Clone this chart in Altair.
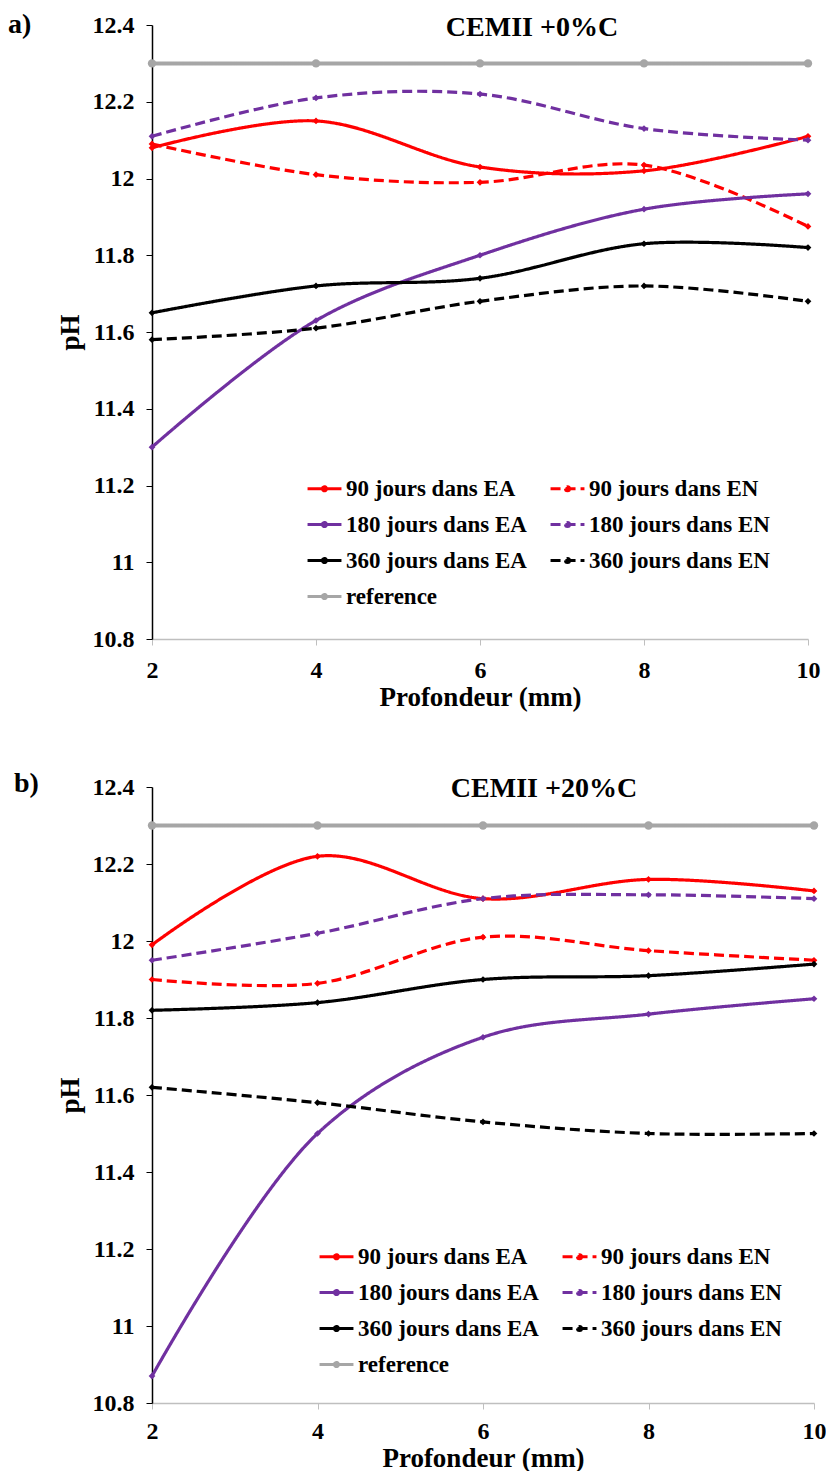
import altair as alt
import pandas as pd

depth = [2, 4, 6, 8, 10]
series_names = [
    "90 jours dans EA", "90 jours dans EN",
    "180 jours dans EA", "180 jours dans EN",
    "360 jours dans EA", "360 jours dans EN",
    "reference",
]
colors = ["#FF0000", "#FF0000", "#7030A0", "#7030A0", "#000000", "#000000", "#A6A6A6"]
dashes = [[1, 0], [10, 5], [1, 0], [10, 5], [1, 0], [10, 5], [1, 0]]
y_ticks = [10.8, 11.0, 11.2, 11.4, 11.6, 11.8, 12.0, 12.2, 12.4]

# Panel a) CEMII +0%C
a_90_EA = [12.08, 12.15, 12.03, 12.02, 12.11]
a_90_EN = [12.09, 12.01, 11.99, 12.035, 11.875]
a_180_EA = [11.30, 11.63, 11.80, 11.92, 11.96]
a_180_EN = [12.11, 12.21, 12.22, 12.13, 12.10]
a_360_EA = [11.65, 11.72, 11.74, 11.83, 11.82]
a_360_EN = [11.58, 11.61, 11.68, 11.72, 11.68]
a_ref = [12.3, 12.3, 12.3, 12.3, 12.3]

# Panel b) CEMII +20%C
b_90_EA = [11.99, 12.22, 12.11, 12.16, 12.13]
b_90_EN = [11.90, 11.89, 12.01, 11.975, 11.95]
b_180_EA = [10.87, 11.50, 11.75, 11.81, 11.85]
b_180_EN = [11.95, 12.02, 12.11, 12.12, 12.11]
b_360_EA = [11.82, 11.84, 11.90, 11.91, 11.94]
b_360_EN = [11.62, 11.58, 11.53, 11.50, 11.50]
b_ref = [12.3, 12.3, 12.3, 12.3, 12.3]

FONT = "Liberation Serif"
LEGEND_SYMBOL = "M-1,0H1M-0.12,0A0.12,0.12,0,1,0,0.12,0A0.12,0.12,0,1,0,-0.12,0"


def make_df(values):
    rows = []
    for name, vals in zip(series_names, values):
        for d, v in zip(depth, vals):
            rows.append({"depth": d, "pH": v, "series": name})
    return pd.DataFrame(rows)


def panel(tag, title, values, w, h, leg_x, leg_y, title_x, title_y, tag_x, tag_y,
          x_label_pad, x_title_pad):
    df = make_df(values)
    x = alt.X(
        "depth:Q",
        scale=alt.Scale(domain=[2, 10], nice=False, zero=False),
        axis=alt.Axis(
            values=depth, title="Profondeur (mm)", grid=False,
            domainColor="#BFBFBF", tickColor="#BFBFBF", domainWidth=1.5,
            tickSize=6, labelPadding=x_label_pad, titlePadding=x_title_pad,
            labelFlush=False,
        ),
    )
    y = alt.Y(
        "pH:Q",
        scale=alt.Scale(domain=[10.8, 12.4], nice=False, zero=False),
        axis=alt.Axis(
            values=y_ticks, labelExpr="format(datum.value, '.3~g')",
            title="pH", grid=False, domainColor="black", tickColor="black",
            domainWidth=1.5, tickSize=6, labelPadding=12, titlePadding=8,
            labelFlush=False,
        ),
    )
    leg = alt.Legend(
        title=None, orient="none", legendX=leg_x, legendY=leg_y, columns=2,
        direction="horizontal",
        labelFont=FONT, labelFontSize=23, labelFontWeight="bold",
        labelColor="black", symbolType=LEGEND_SYMBOL, symbolSize=1150,
        symbolStrokeWidth=3, rowPadding=5, columnPadding=17,
        labelOffset=3, labelLimit=400,
    )
    color = alt.Color(
        "series:N", sort=series_names,
        scale=alt.Scale(domain=series_names, range=colors), legend=leg,
    )
    dash = alt.StrokeDash(
        "series:N", sort=series_names,
        scale=alt.Scale(domain=series_names, range=dashes), legend=leg,
    )
    lines = alt.Chart(df).mark_line(interpolate="catmull-rom").encode(
        x=x, y=y, color=color, strokeDash=dash,
        strokeWidth=alt.condition(
            alt.datum.series == "reference", alt.value(4), alt.value(3.2)
        ),
    )
    points = alt.Chart(df).mark_point(filled=True, opacity=1).encode(
        x=x, y=y,
        fill=alt.Fill(
            "series:N", scale=alt.Scale(domain=series_names, range=colors),
            legend=None,
        ),
        shape=alt.condition(
            alt.datum.series == "reference", alt.value("circle"), alt.value("diamond")
        ),
        size=alt.condition(
            alt.datum.series == "reference", alt.value(70), alt.value(45)
        ),
    )
    title_mark = alt.Chart(pd.DataFrame({"t": [title]})).mark_text(
        font=FONT, fontSize=28, fontWeight="bold", align="center",
        baseline="middle", color="black",
    ).encode(text="t:N", x=alt.value(title_x), y=alt.value(title_y))
    tag_mark = alt.Chart(pd.DataFrame({"t": [tag]})).mark_text(
        font=FONT, fontSize=28, fontWeight="bold", align="left",
        baseline="middle", color="black",
    ).encode(text="t:N", x=alt.value(tag_x), y=alt.value(tag_y))
    return alt.layer(lines, points, title_mark, tag_mark).properties(width=w, height=h)


top = panel(
    "a)", "CEMII +0%C",
    [a_90_EA, a_90_EN, a_180_EA, a_180_EN, a_360_EA, a_360_EN, a_ref],
    656, 614, 154, 445, 380, 3, -144, 0, 13, 2,
)
bottom = panel(
    "b)", "CEMII +20%C",
    [b_90_EA, b_90_EN, b_180_EA, b_180_EN, b_360_EA, b_360_EN, b_ref],
    662, 616, 166, 451, 392, 2, -138, -3, 10, 2,
)

chart = alt.vconcat(top, bottom, spacing=60).resolve_scale(
    color="independent", strokeDash="independent", fill="independent"
).properties(
    padding={"left": 0, "top": 3, "right": 0, "bottom": 0}
).configure_view(stroke=None).configure_axis(
    labelFont=FONT, labelFontSize=24, labelFontWeight="bold", labelColor="black",
    titleFont=FONT, titleFontSize=27, titleFontWeight="bold", titleColor="black",
)

chart.save("out.html", embed_options={"renderer": "svg", "actions": False})
